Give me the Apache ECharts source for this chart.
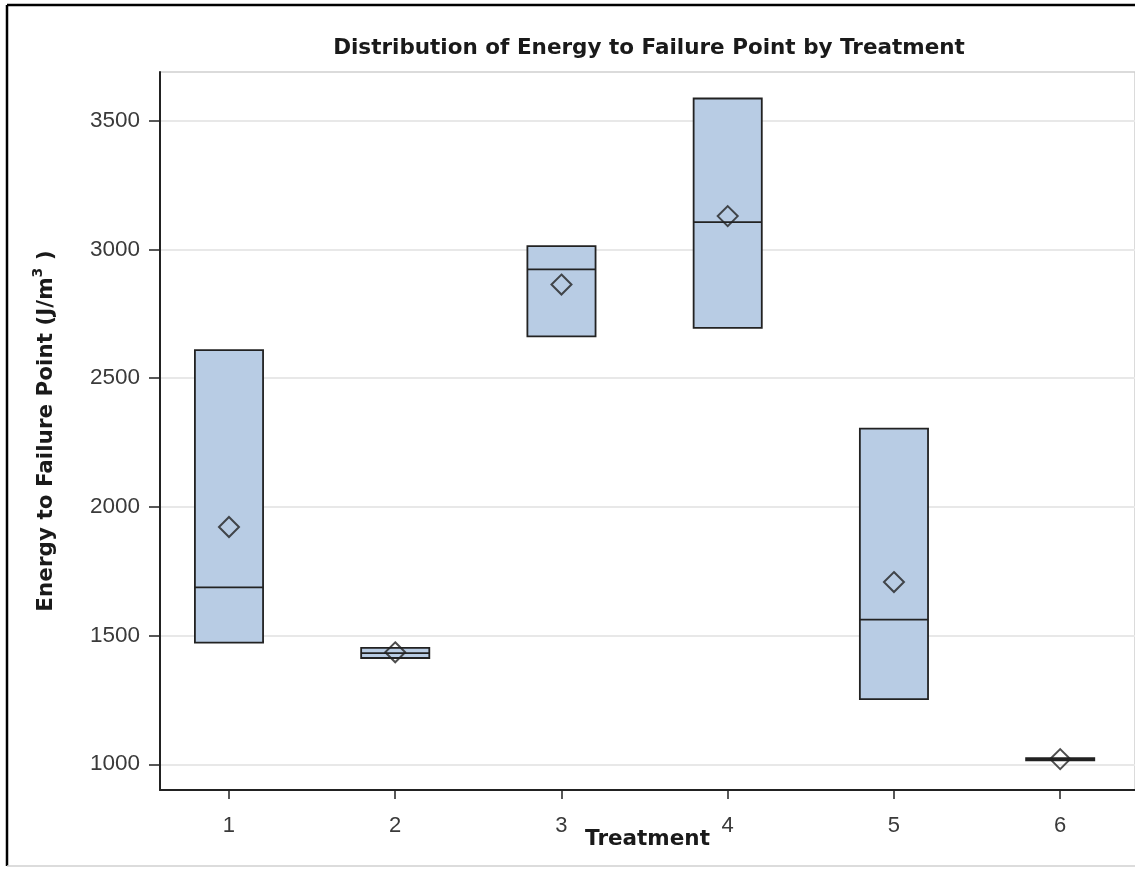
<!DOCTYPE html>
<html>
<head>
<meta charset="utf-8">
<script src="https://cdn.jsdelivr.net/npm/echarts@6/dist/echarts.min.js"></script>
<style>
  html, body { margin: 0; padding: 0; background: #fff; }
  #chart { width: 1135px; height: 869px; }
</style>
</head>
<body>
<div id="chart"></div>
<script>
// data
const treatments = [1, 2, 3, 4, 5, 6];
const q1Values = [1473, 1413, 2663, 2696, 1253, 1015];
const medianValues = [1687, 1432, 2923, 3107, 1562, 1020];
const q3Values = [2609, 1452, 3013, 3587, 2304, 1024];
const meanValues = [1922, 1435, 2864, 3130, 1708, 1020];
const yTicks = [1000, 1500, 2000, 2500, 3000, 3500];

const boxHalf = 0.205;
const dark = "#222";
const boldFont = "DejaVu Sans";
const tickFont = "Liberation Sans";

const chart = echarts.init(document.getElementById("chart"));

const option = {
  animation: false,
  backgroundColor: "#fff",
  title: {
    text: "Distribution of Energy to Failure Point by Treatment",
    left: 644,
    top: 32,
    textAlign: "center",
    textStyle: {
      fontFamily: boldFont,
      fontWeight: "bold",
      fontSize: 21.5,
      color: "#1a1a1a",
    },
  },
  grid: {
    left: 160,
    right: 0,
    top: 72,
    bottom: 79,
    show: true,
    borderColor: "#cfcfcf",
    borderWidth: 1.5,
    outerBoundsMode: "none",
  },
  xAxis: {
    type: "value",
    min: 0.585,
    max: 6.45,
    name: "Treatment",
    nameLocation: "middle",
    nameGap: 38,
    nameMoveOverlap: false,
    nameTextStyle: {
      fontFamily: boldFont,
      fontWeight: "bold",
      fontSize: 21.5,
      color: "#1a1a1a",
    },
    axisLine: { show: true, lineStyle: { color: dark, width: 2 } },
    axisTick: {
      show: true,
      length: 9,
      customValues: treatments,
      lineStyle: { color: dark, width: 1.5 },
    },
    axisLabel: {
      customValues: treatments,
      margin: 25,
      fontFamily: tickFont,
      fontSize: 22,
      color: "#3a3a3a",
    },
    splitLine: { show: false },
  },
  yAxis: {
    type: "value",
    min: 900,
    max: 3690,
    name: "{t|Energy to Failure Point (J/m}{s|3}{t| )}",
    nameLocation: "middle",
    nameGap: 103,
    nameRotate: 90,
    nameMoveOverlap: false,
    nameTextStyle: {
      rich: {
        t: {
          fontFamily: boldFont,
          fontWeight: "bold",
          fontSize: 21.5,
          color: "#1a1a1a",
          lineHeight: 26,
          verticalAlign: "bottom",
        },
        s: {
          fontFamily: boldFont,
          fontWeight: "bold",
          fontSize: 14,
          color: "#1a1a1a",
          lineHeight: 26,
          verticalAlign: "top",
        },
      },
    },
    axisLine: { show: true, lineStyle: { color: dark, width: 2 } },
    axisTick: {
      show: true,
      length: 11,
      customValues: yTicks,
      lineStyle: { color: dark, width: 1.5 },
    },
    axisLabel: {
      customValues: yTicks,
      formatter: (v) => String(v),
      margin: 20,
      fontFamily: tickFont,
      fontSize: 22.5,
      color: "#3a3a3a",
    },
    splitLine: {
      show: true,
      lineStyle: { color: "#e8e8e8", width: 2 },
    },
  },
  series: [
    {
      name: "box",
      type: "custom",
      data: treatments.map((t, i) => [t, q1Values[i], medianValues[i], q3Values[i]]),
      encode: { x: 0, y: [1, 2, 3] },
      renderItem(params, api) {
        const x = api.value(0);
        const lo = api.coord([x - boxHalf, api.value(1)]);
        const hi = api.coord([x + boxHalf, api.value(3)]);
        const med = api.coord([x, api.value(2)]);
        return {
          type: "group",
          children: [
            {
              type: "rect",
              shape: { x: lo[0], y: hi[1], width: hi[0] - lo[0], height: lo[1] - hi[1] },
              style: { fill: "#b8cce4", stroke: dark, lineWidth: 1.8 },
            },
            {
              type: "line",
              shape: { x1: lo[0], y1: med[1], x2: hi[0], y2: med[1] },
              style: { stroke: dark, lineWidth: 1.8 },
            },
          ],
        };
      },
      z: 2,
    },
    {
      name: "mean",
      type: "scatter",
      data: treatments.map((t, i) => [t, meanValues[i]]),
      symbol: "diamond",
      symbolSize: 20,
      itemStyle: { color: "rgba(0,0,0,0)", borderColor: dark, borderWidth: 2 },
      emphasis: { disabled: true },
      z: 3,
    },
  ],
  graphic: [
    { type: "line", shape: { x1: 7, y1: 5, x2: 1135, y2: 5 }, style: { stroke: "#000", lineWidth: 2.5 } },
    { type: "line", shape: { x1: 7, y1: 5, x2: 7, y2: 866 }, style: { stroke: "#000", lineWidth: 2.5 } },
    { type: "line", shape: { x1: 7, y1: 866, x2: 1135, y2: 866 }, style: { stroke: "#d0d0d0", lineWidth: 1.5 } },
  ],
};

chart.setOption(option);
</script>
</body>
</html>
